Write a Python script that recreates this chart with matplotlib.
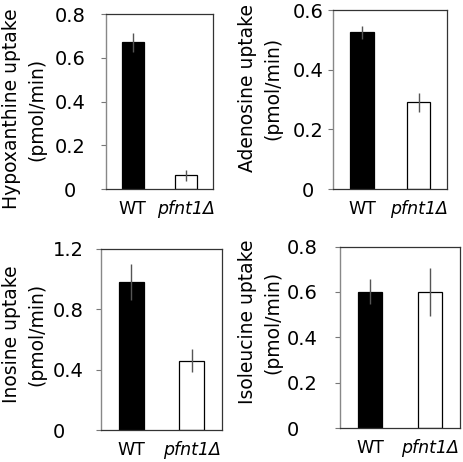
import matplotlib
matplotlib.use("Agg")
import matplotlib.pyplot as plt

plt.rcParams['font.family'] = ['DejaVu Sans']

categories = ["WT", "pfnt1Δ"]
cat_styles = ["normal", "italic"]

hypo_vals = [0.67, 0.063]
hypo_err = [0.045, 0.025]
aden_vals = [0.525, 0.29]
aden_err = [0.022, 0.031]
ino_vals = [0.98, 0.46]
ino_err = [0.12, 0.078]
iso_vals = [0.60, 0.60]
iso_err = [0.055, 0.105]

hypo_ticks = [0, 0.2, 0.4, 0.6, 0.8]
aden_ticks = [0, 0.2, 0.4, 0.6]
ino_ticks = [0, 0.4, 0.8, 1.2]
iso_ticks = [0, 0.2, 0.4, 0.6, 0.8]

W, H = 464, 462
fig = plt.figure(figsize=(W / 100, H / 100), dpi=100)

def px_axes(l, r, t, b):
    return fig.add_axes([l / W, 1 - b / H, (r - l) / W, (b - t) / H])

panels = [
    dict(box=(106, 213, 14, 189), vals=hypo_vals, err=hypo_err, ticks=hypo_ticks,
         ylabel="Hypoxanthine uptake\n(pmol/min)", lab=(24, 109), ha='center', dist=36),
    dict(box=(333.5, 447, 10, 189), vals=aden_vals, err=aden_err, ticks=aden_ticks,
         ylabel="Adenosine uptake\n(pmol/min)", lab=(260, 88), ha='center', dist=25.5),
    dict(box=(101, 222, 249, 430), vals=ino_vals, err=ino_err, ticks=ino_ticks,
         ylabel="Inosine uptake\n(pmol/min)", lab=(24, 334), ha='left', dist=48),
    dict(box=(340, 460, 246.5, 428), vals=iso_vals, err=iso_err, ticks=iso_ticks,
         ylabel="Isoleucine uptake\n(pmol/min)", lab=(260, 322), ha='left', dist=53),
]

ticklen_px = 5
for p in panels:
    ax = px_axes(*p['box'])
    x = list(range(len(categories)))
    ax.bar(x, p['vals'], width=0.41, color=['black', 'white'],
           edgecolor='black', linewidth=0.9, zorder=2)
    ax.errorbar(x, p['vals'], yerr=p['err'], fmt='none', ecolor='#555555',
                elinewidth=1.0, capsize=0, zorder=3)
    ax.set_xlim(-0.5, 1.5)
    ax.set_ylim(0, p['ticks'][-1])
    ax.set_yticks(p['ticks'])
    ax.set_yticklabels(['0' if t == 0 else f"{t:.1f}" for t in p['ticks']])
    ax.set_xticks(x)
    ax.set_xticklabels(categories)
    for lbl, st in zip(ax.get_xticklabels(), cat_styles):
        lbl.set_fontstyle(st)
    pad_pt = (p['dist'] - ticklen_px) * 72 / 100
    ax.tick_params(axis='y', length=ticklen_px * 72 / 100, width=0.8, color='#777777',
                   pad=pad_pt, labelsize=14, labelcolor='black')
    ax.tick_params(axis='x', length=0, pad=8, labelsize=12.5)
    plt.setp(ax.get_yticklabels(), ha=p['ha'])
    for side in ['top', 'right', 'bottom']:
        ax.spines[side].set_color('#333333')
        ax.spines[side].set_linewidth(0.9)
    ax.spines['left'].set_color('#888888')
    ax.spines['left'].set_linewidth(1.0)
    fig.text(p['lab'][0] / W, 1 - p['lab'][1] / H, p['ylabel'], rotation=90,
             ha='center', va='center', fontsize=13.5, linespacing=1.4,
             multialignment='center')

fig.savefig("out.png", dpi=100)
